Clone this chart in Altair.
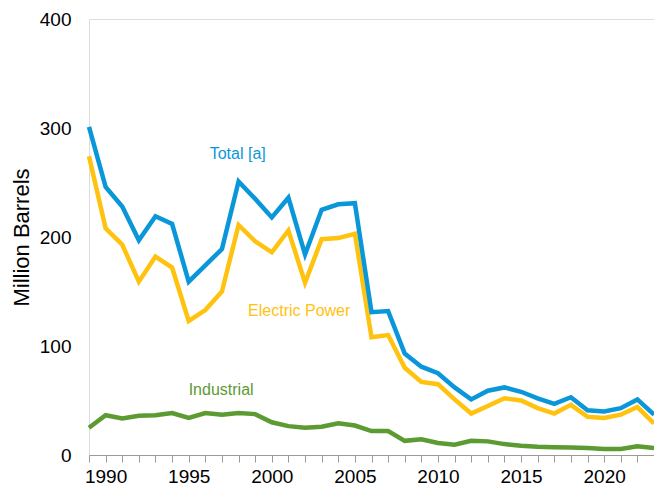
import altair as alt
import pandas as pd

years = list(range(1989, 2024))
total = [301, 246, 228, 197, 219, 212, 159, 174, 189, 251, 235, 218, 236, 184, 225,
         230, 231, 131, 132, 93, 81, 75, 62, 51, 59, 62, 58, 52, 47, 53, 41, 40, 43, 51, 37]
electric = [274, 208, 193, 159, 182, 172, 123, 133, 150, 211, 196, 186, 206, 158, 198,
            199, 203, 108, 110, 80, 67, 65, 51, 38, 45, 52, 50, 43, 38, 46, 35, 34, 37, 44, 29]
industrial = [25, 36.5, 33.5, 36, 36.5, 38.5, 34, 38.5, 37, 38.5, 37.5, 30, 26.5, 25, 26,
              29, 27, 22, 22, 13, 14.5, 11, 9.5, 13, 12.5, 10, 8.5, 7.5, 7, 6.8, 6.5, 5.5, 5.5, 8, 6.5]

series_names = ["Industrial", "Electric Power", "Total [a]"]
series_colors = ["#5C9A32", "#FFC20E", "#0A97D9"]

label_text = ["Total [a]", "Electric Power", "Industrial"]
label_year = [1997.95, 2001.65, 1996.95]
label_value = [276, 132, 60]

rows = []
for name, vals in zip(series_names, [industrial, electric, total]):
    for y, v in zip(years, vals):
        rows.append({"year": y, "value": v, "series": name})
df = pd.DataFrame(rows)
labels = pd.DataFrame({"text": label_text, "year": label_year, "value": label_value,
                       "series": label_text})

W, H = 565, 436
font = "Liberation Sans"

xscale = alt.Scale(domain=[1989, 2023], nice=False, zero=False)
yscale = alt.Scale(domain=[0, 400], nice=False)
color = alt.Color("series:N", scale=alt.Scale(domain=series_names, range=series_colors), legend=None)

x_enc = alt.X("year:Q", scale=xscale, axis=alt.Axis(
    title=None, values=years, labelExpr="datum.value % 5 == 0 ? datum.label : ''",
    labelOverlap=False, labelFontSize=19, labelColor="#000000", labelFont=font,
    domainColor="#9a9a9a", tickColor="#9a9a9a", tickSize=7, labelPadding=5,
    grid=False, labelFlush=False, format="d"))
y_enc = alt.Y("value:Q", scale=yscale, axis=alt.Axis(
    title="Million Barrels", values=[0, 100, 200, 300, 400], grid=False, ticks=False,
    domain=False, labelFontSize=19, labelColor="#000000", labelFont=font, labelPadding=18,
    titleFontSize=22, titleFont=font, titleFontWeight="normal", titleColor="#000000",
    titleAngle=-90, titleAlign="center", titleBaseline="middle", titleX=-68, titleY=H / 2))

lines = alt.Chart(df).mark_line(strokeWidth=4.5, strokeJoin="miter").encode(
    color=color,
    order=alt.Order("year:Q"),
    detail="series:N",
)

text = alt.Chart(labels).mark_text(fontSize=16, font=font, align="center", baseline="middle").encode(
    text="text:N",
    color=color,
)

chart = alt.layer(lines, text).encode(x=x_enc, y=y_enc).properties(
    width=W, height=H,
    autosize=alt.AutoSizeParams(type="none"),
    padding={"left": 81, "top": 11, "right": 0, "bottom": 34},
).configure_view(strokeWidth=0).configure(background="white")

chart.save("out.html", embed_options={"renderer": "svg", "actions": False})
